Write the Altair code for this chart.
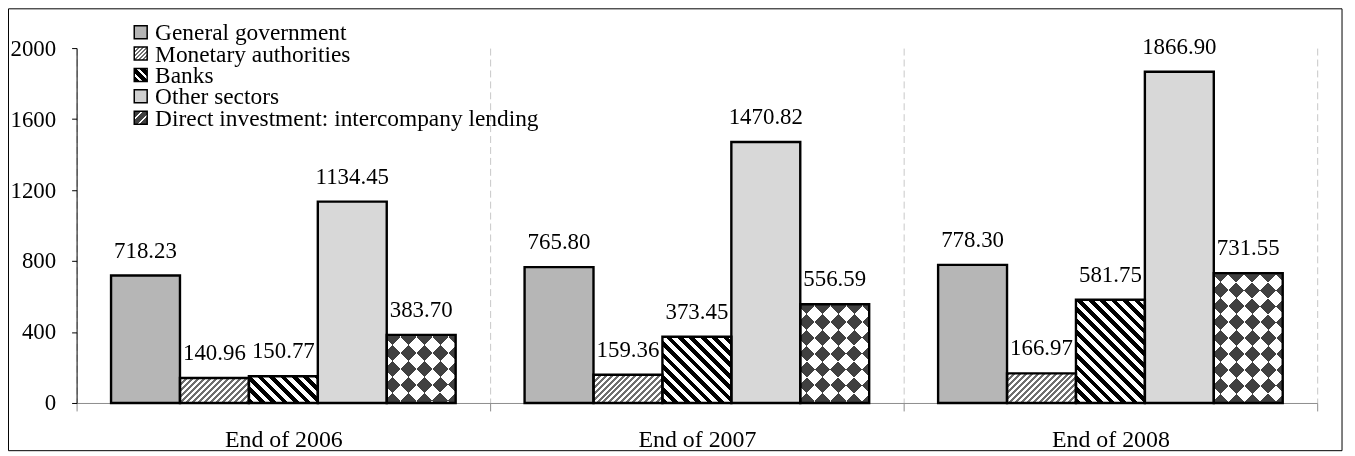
import altair as alt

# ---------------- data ----------------
categories = ["End of 2006", "End of 2007", "End of 2008"]
series = [
    "General government",
    "Monetary authorities",
    "Banks",
    "Other sectors",
    "Direct investment: intercompany lending",
]
general_government = [718.23, 765.80, 778.30]
monetary_authorities = [140.96, 159.36, 166.97]
banks = [150.77, 373.45, 581.75]
other_sectors = [1134.45, 1470.82, 1866.90]
direct_investment = [383.70, 556.59, 731.55]
y_ticks = [0, 400, 800, 1200, 1600, 2000]

series_values = [general_government, monetary_authorities, banks, other_sectors, direct_investment]

# ---------------- layout / style ----------------
PLOT_W, PLOT_H, Y_MAX = 1248, 357, 2000
BAR_W = PLOT_W / len(categories) / 6.0
FONT = "Liberation Serif"
LEGEND_TOP, LEGEND_BOTTOM = -16, 70   # legend row centres, px from plot top
LEGEND_SYMBOL_X, LEGEND_TEXT_X = 64.5, 79


def stripes(w, h, direction, period, c1, c2, frac=0.5):
    """Linear gradient emulating diagonal hatching inside a w x h box."""
    a = (w + h) / (w * w + h * h)
    if direction == "/":
        x1, y1, x2, y2 = 0, 0, a * w, a * h
    else:
        x1, y1, x2, y2 = 0, 1, a * w, 1 - a * h
    tp = period / (w + h)
    stops = []
    t = 0.0
    while t < 1:
        tm = min(t + tp * frac, 1.0)
        te = min(t + tp, 1.0)
        stops += [
            {"offset": round(t, 5), "color": c1},
            {"offset": round(tm, 5), "color": c1},
            {"offset": round(tm, 5), "color": c2},
            {"offset": round(te, 5), "color": c2},
        ]
        t += tp
    return {"gradient": "linear", "x1": x1, "y1": y1, "x2": x2, "y2": y2, "stops": stops}


def fill_a(s, w, h):
    if s == series[0]:
        return "#b6b6b6"
    if s == series[1]:
        return stripes(w, h, "/", 6, "#6e6e6e", "#ffffff", 0.5)
    if s == series[2]:
        return stripes(w, h, "\\", 11.5, "#000000", "#ffffff", 0.5)
    if s == series[3]:
        return "#d8d8d8"
    return stripes(w, h, "/", 32, "#ffffff", "#000000", 0.5)


def fill_b(s, w, h):
    if s == series[4]:
        return stripes(w, h, "\\", 32, "#ffffff", "#000000", 0.5)
    return "#ffffff"


records = []
for s, vals in zip(series, series_values):
    for c, v in zip(categories, vals):
        h = v / Y_MAX * PLOT_H
        records.append({
            "category": c,
            "series": s,
            "value": v,
            "label": f"{v:.2f}",
            "fillA": fill_a(s, BAR_W, h),
            "fillB": fill_b(s, BAR_W, h),
        })

data = alt.Data(values=records)

x_enc = alt.X(
    "category:N",
    sort=categories,
    scale=alt.Scale(paddingInner=0, paddingOuter=0),
    axis=alt.Axis(
        title=None,
        labelAngle=0,
        labelFont=FONT,
        labelFontSize=24,
        labelColor="black",
        labelPadding=17,
        domainColor="#8c8c8c",
        tickColor="#8c8c8c",
        tickSize=8,
        tickBand="extent",
        grid=True,
        gridColor="#c8c8c8",
        gridDash=[7, 4],
        gridWidth=1,
    ),
)
xo_enc = alt.XOffset(
    "series:N",
    sort=series,
    scale=alt.Scale(domain=series, paddingInner=0, paddingOuter=0.5),
)
y_enc = alt.Y(
    "value:Q",
    stack=None,
    scale=alt.Scale(domain=[0, Y_MAX], nice=False, zero=True),
    axis=alt.Axis(
        title=None,
        values=y_ticks,
        format="d",
        grid=False,
        labelFont=FONT,
        labelFontSize=23,
        labelColor="black",
        labelPadding=16,
        domainColor="black",
        tickColor="black",
        tickSize=5,
    ),
)

base = alt.Chart(data).encode(x=x_enc, xOffset=xo_enc, y=y_enc)

bars_a = base.mark_bar(strokeWidth=0).encode(fill=alt.Fill("fillA:N", scale=None, legend=None))

is_direct = alt.datum.series == series[4]
bars_b = (
    base.transform_filter(is_direct)
    .mark_bar(blend="difference", strokeWidth=0)
    .encode(fill=alt.Fill("fillB:N", scale=None, legend=None))
)
bars_c = base.transform_filter(is_direct).mark_bar(fill="white", opacity=0.25, strokeWidth=0)

outline = base.mark_bar(fillOpacity=0, stroke="black", strokeWidth=2.4)

labels = base.mark_text(
    font=FONT, fontSize=23, baseline="alphabetic", dy=-18, color="black"
).encode(text="label:N")

# ---------------- legend (drawn as marks, one row per series) ----------------
legend_fills = ["#b5b5b5",
                stripes(13, 13, "/", 4, "#6e6e6e", "#ffffff", 0.5),
                stripes(13, 13, "\\", 9, "#000000", "#ffffff", 0.62),
                "#d0d0d0",
                stripes(13, 13, "/", 9, "#404040", "#ffffff", 0.75)]
legend_data = alt.Data(values=[{"series": s, "fill": f} for s, f in zip(series, legend_fills)])
leg_y = alt.Y(
    "series:N",
    sort=series,
    scale=alt.Scale(type="point", domain=series, range=[LEGEND_TOP, LEGEND_BOTTOM], padding=0),
    axis=None,
)
legend_symbols = alt.Chart(legend_data).mark_square(
    size=169, stroke="black", strokeWidth=1.5, opacity=1
).encode(
    x=alt.value(LEGEND_SYMBOL_X), y=leg_y, fill=alt.Fill("fill:N", scale=None, legend=None)
)
legend_texts = alt.Chart(legend_data).mark_text(
    font=FONT, fontSize=23.5, align="left", baseline="middle", color="black", dy=1
).encode(x=alt.value(LEGEND_TEXT_X), y=leg_y, text="series:N")
legend_layer = alt.layer(legend_symbols, legend_texts)

border = alt.Chart(alt.Data(values=[{"k": 0}])).mark_rect(
    fillOpacity=0, stroke="black", strokeWidth=1
).encode(
    x=alt.value(-68.5), x2=alt.value(1273), y=alt.value(-39.5), y2=alt.value(405)
)

main = alt.layer(border, bars_a, bars_b, bars_c, outline, labels)

chart = (
    alt.layer(main, legend_layer)
    .resolve_scale(y="independent")
    .properties(
        width=PLOT_W,
        height=PLOT_H,
        autosize=alt.AutoSizeParams(type="none"),
        padding={"left": 69, "top": 39, "right": 30, "bottom": 50},
    )
    .configure(font=FONT)
    .configure_view(strokeWidth=0)
)

chart.save("out.html", embed_options={"renderer": "svg", "actions": False})
